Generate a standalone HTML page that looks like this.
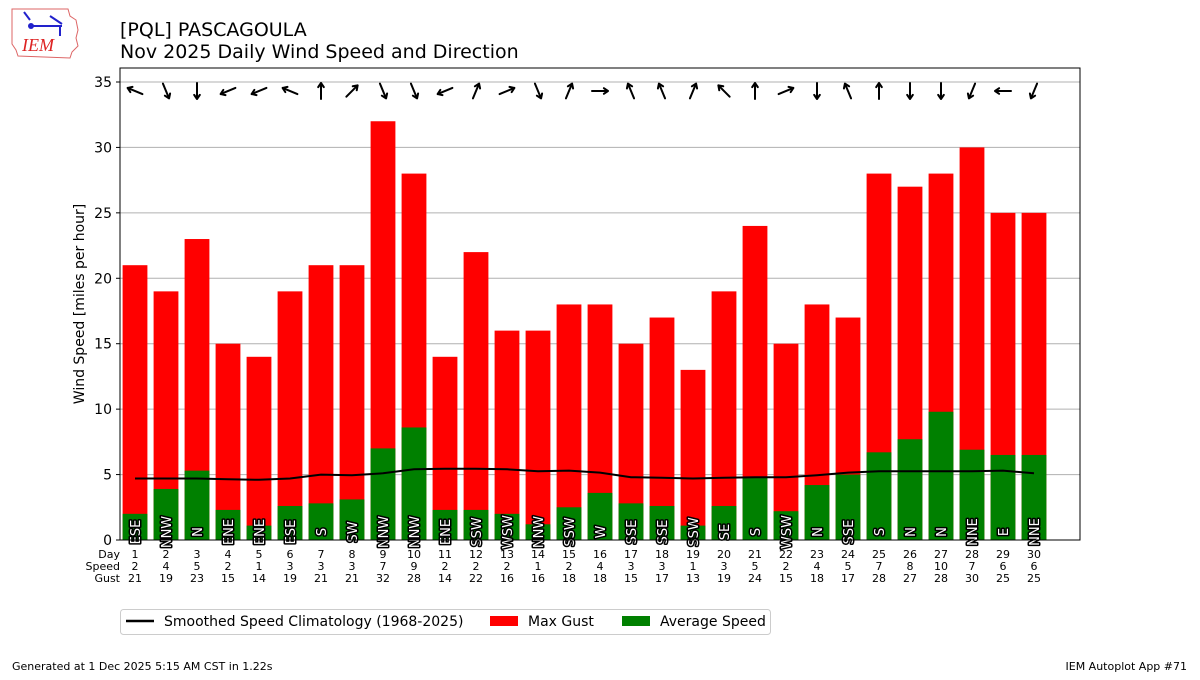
<!DOCTYPE html>
<html><head><meta charset="utf-8"><style>
body{margin:0;background:#fff;width:1200px;height:675px;overflow:hidden;font-family:"Liberation Sans","DejaVu Sans",sans-serif;}
</style></head><body>
<svg id="s" width="1200" height="675" xmlns="http://www.w3.org/2000/svg" font-family="DejaVu Sans, Liberation Sans, sans-serif">
<g transform="translate(10,6)">
<path d="M2,3 L58,3 L60,10 L66,14 L68,24 L66,32 L68,40 L62,46 L60,52 L8,50 L6,44 L2,38 Z" fill="none" stroke="#d66" stroke-width="1"/>
<text x="12" y="45" font-family="Liberation Serif" font-style="italic" font-size="18" fill="#d22">IEM</text>
<path d="M14,6 L20,14 M20,20 L52,20 M40,10 L52,18 M50,20 L50,30" stroke="#22c" stroke-width="2" fill="none"/>
<circle cx="21" cy="20" r="3" fill="#22c"/>
</g>
<text x="120" y="36" font-size="19">[PQL] PASCAGOULA</text>
<text x="120" y="58" font-size="19">Nov 2025 Daily Wind Speed and Direction</text>
<g id="grid"></g>
<g id="bars"></g>
<polyline id="clim" fill="none" stroke="#000" stroke-width="2"/>
<g id="lbl"></g>
<g id="arr" stroke="#000" stroke-width="2" fill="none" stroke-linecap="round" stroke-linejoin="round"></g>
<rect x="120" y="68" width="960" height="472" fill="none" stroke="#000" stroke-width="1"/>
<g id="ticks" font-size="14"></g>
<text transform="translate(84,304) rotate(-90)" text-anchor="middle" font-size="14">Wind Speed [miles per hour]</text>
<g font-size="11" id="tab"></g>
<rect x="120.5" y="609.5" width="650" height="25" rx="3" fill="#fff" stroke="#ccc"/>
<line x1="126" y1="621" x2="154" y2="621" stroke="#000" stroke-width="2.5"/>
<text x="164" y="626" font-size="14">Smoothed Speed Climatology (1968-2025)</text>
<rect x="490" y="616" width="28" height="10" fill="red"/>
<text x="528" y="626" font-size="14">Max Gust</text>
<rect x="622" y="616" width="28" height="10" fill="green"/>
<text x="660" y="626" font-size="14">Average Speed</text>
<text x="12" y="670" font-size="11">Generated at 1 Dec 2025 5:15 AM CST in 1.22s</text>
<text x="1187" y="670" font-size="11" text-anchor="end">IEM Autoplot App #71</text>
</svg>
<script>
const NS="http://www.w3.org/2000/svg";
function el(p,t,a,txt){const e=document.createElementNS(NS,t);for(const k in a)e.setAttribute(k,a[k]);if(txt!==undefined)e.textContent=txt;document.getElementById(p).appendChild(e);return e;}
const Y=v=>540-v*13.086;
const gust=[21,19,23,15,14,19,21,21,32,28,14,22,16,16,18,18,15,17,13,19,24,15,18,17,28,27,28,30,25,25];
const avg=[2,3.9,5.3,2.3,1.1,2.6,2.8,3.1,7.0,8.6,2.3,2.3,2.0,1.2,2.5,3.6,2.8,2.6,1.1,2.6,4.8,2.2,4.2,5.0,6.7,7.7,9.8,6.9,6.5,6.5];
const spd=[2,4,5,2,1,3,3,3,7,9,2,2,2,1,2,4,3,3,1,3,5,2,4,5,7,8,10,7,6,6];
const dirs="ESE NNW N ENE ENE ESE S SW NNW NNW ENE SSW WSW NNW SSW W SSE SSE SSW SE S WSW N SSE S N N NNE E NNE".split(" ");
const clim=[4.7,4.7,4.7,4.65,4.6,4.7,5.0,4.95,5.1,5.4,5.45,5.45,5.4,5.25,5.3,5.15,4.8,4.75,4.7,4.75,4.8,4.8,4.95,5.15,5.25,5.25,5.25,5.25,5.3,5.1];
const cmp={N:0,NNE:22.5,NE:45,ENE:67.5,E:90,ESE:112.5,SE:135,SSE:157.5,S:180,SSW:202.5,SW:225,WSW:247.5,W:270,WNW:292.5,NW:315,NNW:337.5};
for(let v=5;v<=35;v+=5) el("grid","line",{x1:120,x2:1080,y1:Y(v),y2:Y(v),stroke:"#b0b0b0","stroke-width":1});
for(let v=0;v<=35;v+=5){el("ticks","line",{x1:116,x2:120,y1:Y(v),y2:Y(v),stroke:"#000"});el("ticks","text",{x:112,y:Y(v)+5,"text-anchor":"end"},v);}
el("tab","text",{x:120,y:558,"text-anchor":"end"},"Day");
el("tab","text",{x:120,y:570,"text-anchor":"end"},"Speed");
el("tab","text",{x:120,y:582,"text-anchor":"end"},"Gust");
let pts=[];
for(let i=0;i<30;i++){
 const cx=135+i*31;
 el("bars","rect",{x:cx-12.4,y:Y(gust[i]),width:24.8,height:540-Y(gust[i]),fill:"red"});
 el("bars","rect",{x:cx-12.4,y:Y(avg[i]),width:24.8,height:540-Y(avg[i]),fill:"green"});
 pts.push(cx+","+Y(clim[i]).toFixed(1));
 el("lbl","text",{transform:`translate(${cx+5},532) rotate(-90)`,"text-anchor":"middle","font-size":"13",fill:"#fff",stroke:"#000","stroke-width":"3","paint-order":"stroke","stroke-linejoin":"round"},dirs[i]);
 el("tab","text",{x:cx,y:558,"text-anchor":"middle"},i+1);
 el("tab","text",{x:cx,y:570,"text-anchor":"middle"},spd[i]);
 el("tab","text",{x:cx,y:582,"text-anchor":"middle"},gust[i]);
 const th=(cmp[dirs[i]]+180)*Math.PI/180, dx=Math.sin(th), dy=-Math.cos(th), cy=91, L=8;
 const x1=cx-dx*L,y1=cy-dy*L,x2=cx+dx*L,y2=cy+dy*L;
 const hx=-dx*5,hy=-dy*5;const c=Math.cos(0.6),s=Math.sin(0.6);
 el("arr","path",{d:`M${x1},${y1}L${x2},${y2}M${x2+hx*c-hy*s},${y2+hx*s+hy*c}L${x2},${y2}L${x2+hx*c+hy*s},${y2-hx*s+hy*c}`});
}
document.getElementById("clim").setAttribute("points",pts.join(" "));
</script>
</body></html>
